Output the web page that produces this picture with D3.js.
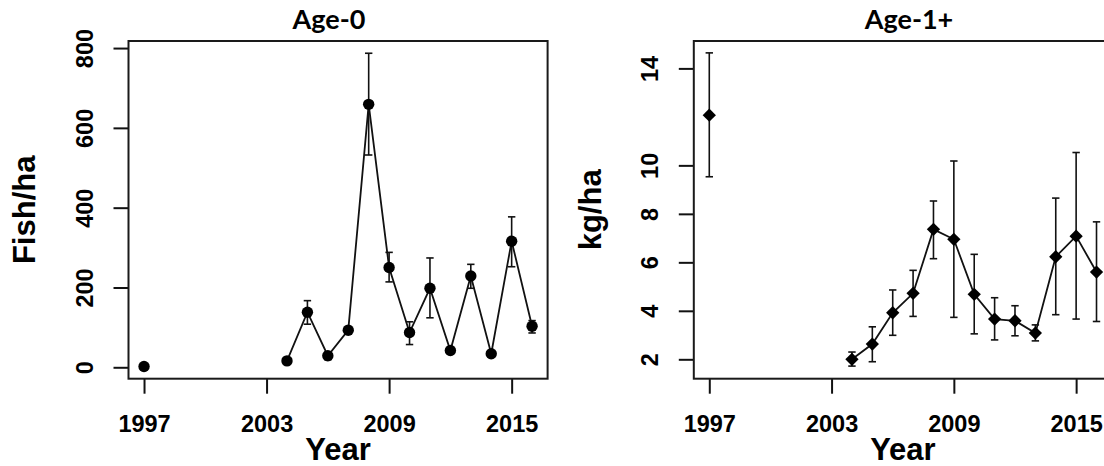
<!DOCTYPE html>
<html>
<head>
<meta charset="utf-8">
<script src="https://cdn.jsdelivr.net/npm/d3@7"></script>
<style>
  html, body { margin: 0; padding: 0; background: #fff; }
  svg { display: block; }
  .tick text { font-family: "Liberation Sans", Arial, sans-serif; font-weight: bold; font-size: 23.5px; fill: #000; }
</style>
</head>
<body>
<svg id="chart" width="1104" height="466"></svg>
<script>
// Survey years (1998-2003 were not sampled)
const years = [1997, 1998, 1999, 2000, 2001, 2002, 2003, 2004, 2005, 2006, 2007, 2008,
               2009, 2010, 2011, 2012, 2013, 2014, 2015, 2016];
const xTicks = [1997, 2003, 2009, 2015];

// Age-0 density (fish/ha) with lower and upper interval bounds
const age0Mean  = [2, null, null, null, null, null, null, 16, 138, 29, 93, 659, 250, 87, 198, 42, 229, 34, 316, 103];
const age0Lower = [null, null, null, null, null, null, null, 10, 108, 19, 85, 532, 214, 57, 124, 36, 198, 29, 252, 86];
const age0Upper = [null, null, null, null, null, null, null, 21, 167, 38, 102, 787, 288, 114, 274, 48, 258, 40, 377, 117];
const age0Ticks = [0, 200, 400, 600, 800];

// Age-1+ biomass (kg/ha) with lower and upper interval bounds
const age1Mean  = [12.07, null, null, null, null, null, null, 2.00, 2.63, 3.92, 4.72, 7.36, 6.95, 4.68, 3.66, 3.59, 3.08, 6.23, 7.08, 5.60];
const age1Lower = [9.53, null, null, null, null, null, null, 1.72, 1.90, 2.99, 3.77, 6.15, 3.73, 3.05, 2.80, 2.97, 2.76, 3.84, 3.66, 3.56];
const age1Upper = [14.64, null, null, null, null, null, null, 2.30, 3.34, 4.86, 5.67, 8.53, 10.18, 6.33, 4.54, 4.21, 3.42, 8.65, 10.53, 7.67];
const age1Ticks = [2, 4, 6, 8, 10, 14];

const svg = d3.select("#chart");
const FONT = '"Liberation Sans", Arial, sans-serif';
const TITLE_FONT = 'Lato, "Open Sans", sans-serif';

const plotTop = 41, plotBottom = 378.7;

function panel(opts) {
  const g = svg.append("g");
  const x = d3.scaleLinear().domain([1996.24, 2016.76]).range([opts.left, opts.right]);
  const y = d3.scaleLinear().domain(opts.yDomain).range([plotBottom, plotTop]);

  const rows = years.map((yr, i) => ({
    year: yr, mean: opts.mean[i], lo: opts.lower[i], hi: opts.upper[i]
  }));

  // x axis
  const xAxis = g.append("g")
    .attr("transform", `translate(0,${plotBottom})`)
    .call(d3.axisBottom(x).tickValues(xTicks).tickFormat(d3.format("d"))
      .tickSize(15).tickSizeOuter(0));
  xAxis.select(".domain").remove();
  xAxis.selectAll(".tick line").attr("stroke", "#111").attr("stroke-width", 2);
  xAxis.selectAll(".tick text").attr("y", 0).attr("dy", null)
    .attr("transform", "translate(0,53.5)");

  // y axis
  const yAxis = g.append("g")
    .attr("transform", `translate(${opts.left},0)`)
    .call(d3.axisLeft(y).tickValues(opts.yTicks).tickSize(15).tickSizeOuter(0));
  yAxis.select(".domain").remove();
  yAxis.selectAll(".tick line").attr("stroke", "#111").attr("stroke-width", 2);
  yAxis.selectAll(".tick text")
    .attr("x", 0).attr("y", -35.7).attr("dy", null)
    .attr("text-anchor", "middle")
    .attr("transform", "rotate(-90)");

  // error bars
  const bars = rows.filter(d => d.lo != null && d.hi != null);
  const eb = g.append("g").attr("stroke", "#111").attr("stroke-width", 1.6).attr("fill", "none");
  eb.selectAll("line.v").data(bars).join("line").attr("class", "v")
    .attr("x1", d => x(d.year)).attr("x2", d => x(d.year))
    .attr("y1", d => y(d.lo)).attr("y2", d => y(d.hi));
  eb.selectAll("line.t").data(bars).join("line").attr("class", "t")
    .attr("x1", d => x(d.year) - 3.7).attr("x2", d => x(d.year) + 3.7)
    .attr("y1", d => y(d.hi)).attr("y2", d => y(d.hi));
  eb.selectAll("line.b").data(bars).join("line").attr("class", "b")
    .attr("x1", d => x(d.year) - 3.7).attr("x2", d => x(d.year) + 3.7)
    .attr("y1", d => y(d.lo)).attr("y2", d => y(d.lo));

  // connecting line (breaks over unsampled years)
  const line = d3.line().defined(d => d.mean != null)
    .x(d => x(d.year)).y(d => y(d.mean));
  g.append("path").datum(rows)
    .attr("d", line).attr("fill", "none").attr("stroke", "#111").attr("stroke-width", 1.8);

  // points
  const pts = rows.filter(d => d.mean != null);
  const sym = d3.symbol().type(opts.symbol).size(opts.symbolSize);
  g.append("g").selectAll("path").data(pts).join("path")
    .attr("transform", d => `translate(${x(d.year)},${y(d.mean)})${opts.symbolRotate}`)
    .attr("d", sym).attr("fill", "#000");

  // plot frame
  g.append("rect")
    .attr("x", opts.left).attr("y", plotTop)
    .attr("width", opts.right - opts.left).attr("height", plotBottom - plotTop)
    .attr("fill", "none").attr("stroke", "#1a1a1a").attr("stroke-width", 2);

  // title
  g.append("text")
    .attr("x", opts.titleX).attr("y", 29)
    .attr("text-anchor", "middle")
    .style("font-family", TITLE_FONT).style("font-weight", "bold").style("font-size", "27px")
    .text(opts.title);

  // axis titles
  g.append("text")
    .attr("transform", `translate(${opts.left - 93.3},${(plotTop + plotBottom) / 2}) rotate(-90)`)
    .attr("text-anchor", "middle")
    .style("font-family", FONT).style("font-weight", "bold").style("font-size", "31px")
    .text(opts.yLabel);
  g.append("text")
    .attr("x", (opts.left + opts.right) / 2).attr("y", 460)
    .attr("text-anchor", "middle")
    .style("font-family", FONT).style("font-weight", "bold").style("font-size", "31px")
    .text("Year");
}

panel({
  left: 128.5, right: 547.6, yDomain: [-28.6, 817.7], yTicks: age0Ticks,
  mean: age0Mean, lower: age0Lower, upper: age0Upper,
  symbol: d3.symbolCircle, symbolSize: Math.PI * 5.7 * 5.7, symbolRotate: "",
  title: "Age-0", titleX: 329, yLabel: "Fish/ha"
});

panel({
  left: 693.8, right: 1112, yDomain: [1.2, 15.13], yTicks: age1Ticks,
  mean: age1Mean, lower: age1Lower, upper: age1Upper,
  symbol: d3.symbolSquare, symbolSize: 9.4 * 9.4, symbolRotate: " rotate(45)",
  title: "Age-1+", titleX: 909, yLabel: "kg/ha"
});
</script>
</body>
</html>
